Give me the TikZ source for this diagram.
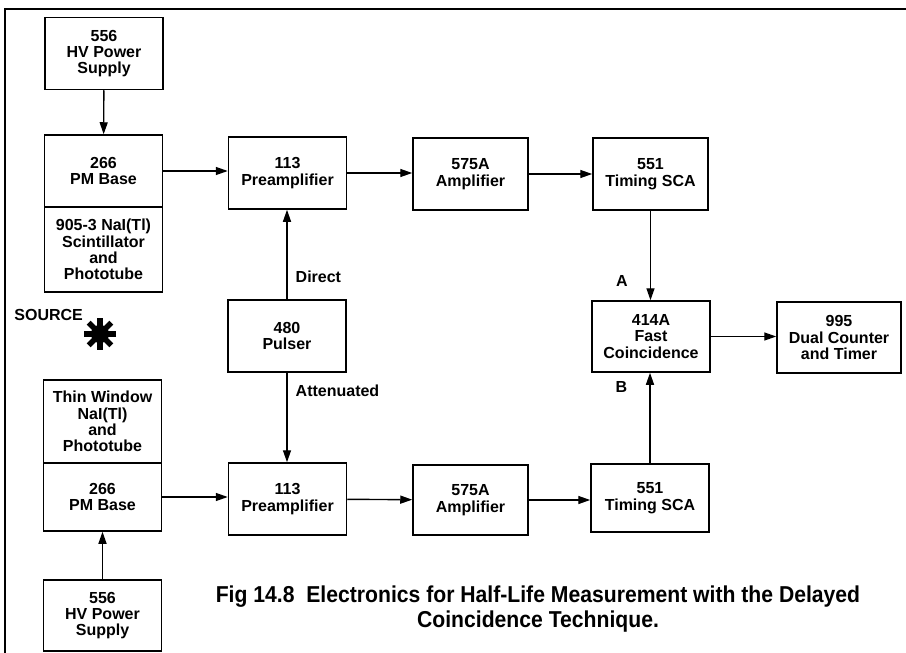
\documentclass[tikz,border=0pt]{standalone}
\usepackage{fontspec}
\setmainfont{Liberation Sans}
\newfontfamily\capfont[FakeStretch=0.92]{Liberation Sans}
\usetikzlibrary{arrows.meta}

\tikzset{
  >={Triangle[length=6pt,width=4pt]},
  blk/.style={draw, line width=0.75pt, align=center, minimum width=59pt, minimum height=36pt,
    inner sep=1pt, font=\fontsize{8.0}{8.2}\selectfont\bfseries},
  lbl/.style={font=\fontsize{8.0}{8.2}\selectfont\bfseries, inner sep=1pt},
  wire/.style={->, line width=0.7pt}
}

\begin{document}
\begin{tikzpicture}[x=0.5pt, y=-0.5pt]
\useasboundingbox (0,0) rectangle (906,653);
\draw[line width=1pt] (5,653) -- (5,9) -- (906,9);

% left detector chain, top
\node[blk] (hvA) at (104,53.5) {556\\HV Power\\Supply};
\node[blk, minimum height=36pt] (pmA) at (103.5,171) {266\\PM Base};
\node[blk, minimum height=42.5pt] (scA) at (103.5,249.5) {905-3 NaI(Tl)\\Scintillator\\and\\Phototube};

% left detector chain, bottom
\node[blk, minimum height=41.5pt] (scB) at (102.5,421.5) {Thin Window\\NaI(Tl)\\and\\Phototube};
\node[blk, minimum height=34pt] (pmB) at (102.5,497) {266\\PM Base};
\node[blk, minimum height=35.5pt] (hvB) at (102.5,615.5) {556\\HV Power\\Supply};

% source
\node[lbl, anchor=west] (srcl) at (12,315) {SOURCE};
\coordinate (src) at (100,334);
\fill (src) circle (4.5pt);
\foreach \a in {0,45,90,135}
  \draw[line width=2.8pt] (src) ++(\a:8pt) -- ++(\a+180:16pt);

% signal chains
\node[blk] (preA) at (287.5,173) {113\\Preamplifier};
\node[blk, minimum width=57.5pt] (ampA) at (470.5,174) {575A\\Amplifier};
\node[blk, minimum width=57.5pt] (scaA) at (650.5,174) {551\\Timing SCA};
\node[blk] (pul) at (287,336) {480\\Pulser};
\node[blk, minimum height=35.5pt] (coin) at (651,336.5) {414A\\Fast\\Coincidence};
\node[blk, minimum width=62pt, minimum height=35.5pt] (cnt) at (839,337.5) {995\\Dual Counter\\and Timer};
\node[blk] (preB) at (287.5,499) {113\\Preamplifier};
\node[blk, minimum width=57.5pt, minimum height=35pt] (ampB) at (470.5,500) {575A\\Amplifier};
\node[blk, minimum height=34pt] (scaB) at (650,498) {551\\Timing SCA};

\draw[wire] (hvA) to (pmA);
\draw[wire] (pmA) to (preA.west |- pmA);
\draw[wire] (preA) to (ampA.west |- preA);
\draw[wire] (ampA) to (scaA);
\draw[wire] (scaA) to node[lbl, pos=0.79, left=10pt] {A} (scaA |- coin.north);
\draw[wire] (coin) to (cnt.west |- coin);
\draw[wire] (pul) to node[lbl, pos=0.25, right=3pt] {Direct} (pul |- preA.south);
\draw[wire] (pul) to node[lbl, pos=0.2, right=3pt] {Attenuated} (pul |- preB.north);
\draw[wire] (hvB) to (pmB);
\draw[wire] (pmB) to (preB.west |- pmB);
\draw[wire] (preB) to (ampB);
\draw[wire] (ampB) to (scaB.west |- ampB);
\draw[wire] (scaB) to node[lbl, pos=0.84, left=10pt] {B} (scaB |- coin.south);

\node[align=center, font=\fontsize{11.5}{12.5}\selectfont\capfont\bfseries] (cap) at (538,609)
  {Fig 14.8\ \ Electronics for Half-Life Measurement with the Delayed\\Coincidence Technique.};
\end{tikzpicture}
\end{document}
